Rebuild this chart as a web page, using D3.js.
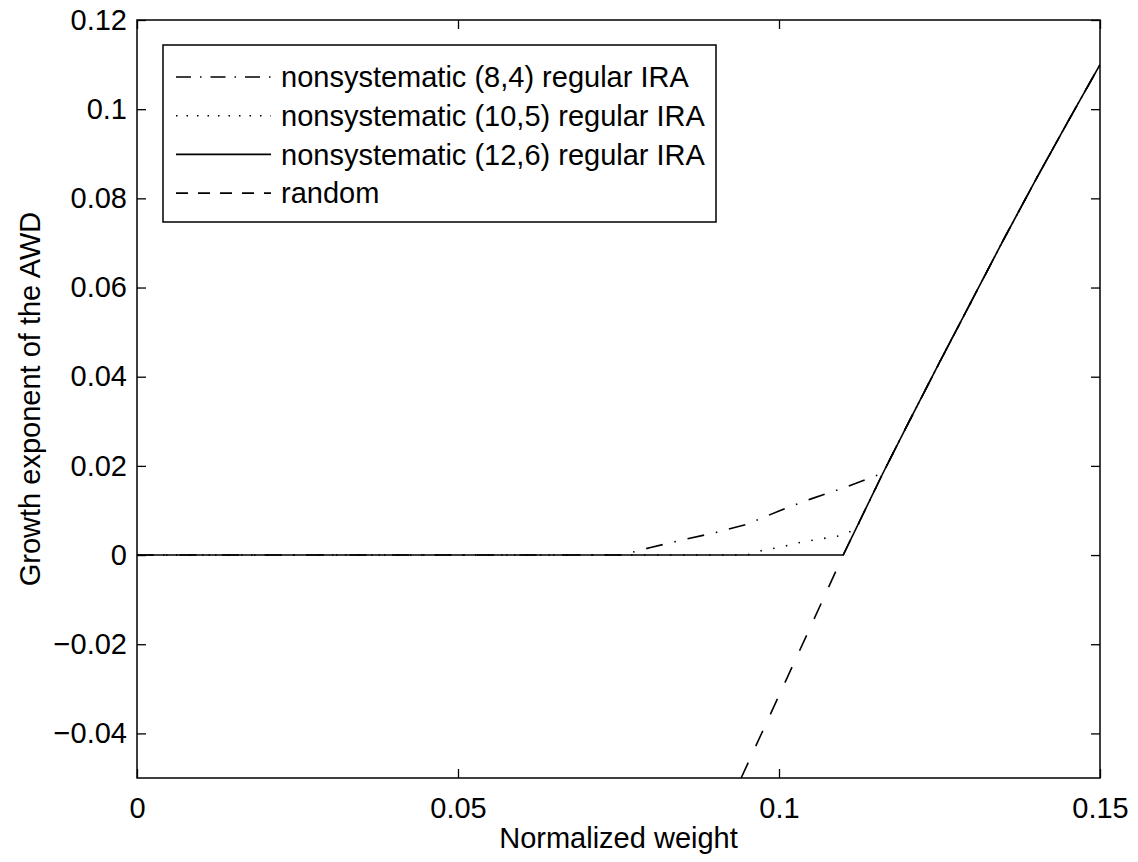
<!DOCTYPE html>
<html>
<head>
<meta charset="utf-8">
<script src="https://cdn.jsdelivr.net/npm/d3@7"></script>
<style>
  body { margin: 0; background: #fff; }
  svg text { font-family: "Liberation Sans", Arial, Helvetica, sans-serif; fill: #000; }
</style>
</head>
<body>
<svg id="chart" width="1138" height="862"></svg>
<script>
// Axis ticks
var xTicks = [0, 0.05, 0.1, 0.15];
var yTicks = [-0.04, -0.02, 0, 0.02, 0.04, 0.06, 0.08, 0.1, 0.12];

// Shared tail: above the knee every code follows the random-ensemble curve
var tailX = [0.1162, 0.12, 0.125, 0.13, 0.135, 0.14, 0.145, 0.15];
var tailY = [0.0184, 0.0292, 0.0432, 0.057, 0.0708, 0.0842, 0.0972, 0.11];

// nonsystematic (8,4) regular IRA
var ira84X = [0, 0.0755, 0.08, 0.085, 0.09, 0.095, 0.1, 0.105, 0.11].concat(tailX);
var ira84Y = [0, 0, 0.0017, 0.0034, 0.005, 0.0069, 0.0099, 0.0126, 0.015].concat(tailY);

// nonsystematic (10,5) regular IRA
var ira105X = [0, 0.095, 0.0975, 0.1, 0.1035, 0.1077, 0.1097, 0.112, 0.1162].concat(tailX.slice(1));
var ira105Y = [0, 0, 0.0011, 0.0017, 0.0029, 0.0039, 0.0044, 0.0058, 0.0184].concat(tailY.slice(1));

// nonsystematic (12,6) regular IRA
var ira126X = [0, 0.11].concat(tailX);
var ira126Y = [0, 0].concat(tailY);

// random
var randX = [0.0941, 0.1, 0.105, 0.11].concat(tailX);
var randY = [-0.05, -0.0315, -0.0158, 0].concat(tailY);

var legendLabels = [
    'nonsystematic (8,4) regular IRA',
    'nonsystematic (10,5) regular IRA',
    'nonsystematic (12,6) regular IRA',
    'random'
];

var margin = {left: 137, right: 38, top: 20, bottom: 84};
var W = 1138, H = 862;
var FS = 29;
var svg = d3.select('#chart');

var x = d3.scaleLinear().domain([0, 0.15]).range([margin.left, W - margin.right]);
var y = d3.scaleLinear().domain([-0.05, 0.12]).range([H - margin.bottom, margin.top]);

function fmtTick(v) {
    var s = d3.format('')(+v.toFixed(4));
    return s.replace('-', '\u2212');
}

svg.append('defs').append('clipPath').attr('id', 'plotclip')
    .append('rect')
    .attr('x', x(0)).attr('y', y(0.12))
    .attr('width', x(0.15) - x(0)).attr('height', y(-0.05) - y(0.12));

// axes with inward ticks on all four sides (box on)
var tickLen = 9;
svg.append('g').attr('transform', 'translate(0,' + y(-0.05) + ')')
    .call(d3.axisBottom(x).tickValues(xTicks).tickSizeInner(-tickLen).tickSizeOuter(0).tickPadding(19).tickFormat(fmtTick));
svg.append('g').attr('transform', 'translate(0,' + y(0.12) + ')')
    .call(d3.axisTop(x).tickValues(xTicks).tickSizeInner(-tickLen).tickSizeOuter(0).tickFormat(''));
svg.append('g').attr('transform', 'translate(' + x(0) + ',0)')
    .call(d3.axisLeft(y).tickValues(yTicks).tickSizeInner(-tickLen).tickSizeOuter(0).tickPadding(10).tickFormat(fmtTick));
svg.append('g').attr('transform', 'translate(' + x(0.15) + ',0)')
    .call(d3.axisRight(y).tickValues(yTicks).tickSizeInner(-tickLen).tickSizeOuter(0).tickFormat(''));

svg.selectAll('.domain').remove();
svg.selectAll('.tick line').attr('stroke', '#000').attr('stroke-width', 1.3);
svg.selectAll('.tick text').attr('font-size', FS).attr('font-family', '"Liberation Sans", Arial, sans-serif').attr('fill', '#000');

svg.append('rect')
    .attr('x', x(0)).attr('y', y(0.12))
    .attr('width', x(0.15) - x(0)).attr('height', y(-0.05) - y(0.12))
    .attr('fill', 'none').attr('stroke', '#000').attr('stroke-width', 1.5);

// series
var series = [
    {xs: ira84X, ys: ira84Y, dash: '17,12,1.5,12', legDash: '15,9,1.5,9'},
    {xs: ira105X, ys: ira105Y, dash: '1.5,11.5', legDash: '1.5,9'},
    {xs: ira126X, ys: ira126Y, dash: null, legDash: null},
    {xs: randX, ys: randY, dash: '17,18', legDash: '12,10'}
];

var line = d3.line().x(function(d) { return x(d[0]); }).y(function(d) { return y(d[1]); });
var plot = svg.append('g').attr('clip-path', 'url(#plotclip)');

series.forEach(function(s) {
    var pts = s.xs.map(function(v, i) { return [v, s.ys[i]]; });
    plot.append('path')
        .attr('d', line(pts))
        .attr('fill', 'none')
        .attr('stroke', '#000')
        .attr('stroke-width', 1.6)
        .attr('stroke-dasharray', s.dash);
});

// legend
var lg = svg.append('g');
lg.append('rect')
    .attr('x', 163).attr('y', 45).attr('width', 553).attr('height', 177)
    .attr('fill', '#fff').attr('stroke', '#000').attr('stroke-width', 1.5);

legendLabels.forEach(function(lbl, i) {
    var ry = 77 + i * 38.7;
    lg.append('line')
        .attr('x1', 176).attr('x2', 271).attr('y1', ry).attr('y2', ry)
        .attr('stroke', '#000').attr('stroke-width', 1.6)
        .attr('stroke-dasharray', series[i].legDash);
    lg.append('text')
        .attr('x', 281).attr('y', ry).attr('dy', '0.35em')
        .attr('font-size', FS)
        .text(lbl);
});

// axis titles
svg.append('text')
    .attr('x', (x(0) + x(0.15)) / 2).attr('y', 848)
    .attr('text-anchor', 'middle').attr('font-size', FS)
    .text('Normalized weight');

svg.append('text')
    .attr('transform', 'translate(40,' + (y(-0.05) + y(0.12)) / 2 + ') rotate(-90)')
    .attr('text-anchor', 'middle').attr('font-size', FS)
    .text('Growth exponent of the AWD');
</script>
</body>
</html>
